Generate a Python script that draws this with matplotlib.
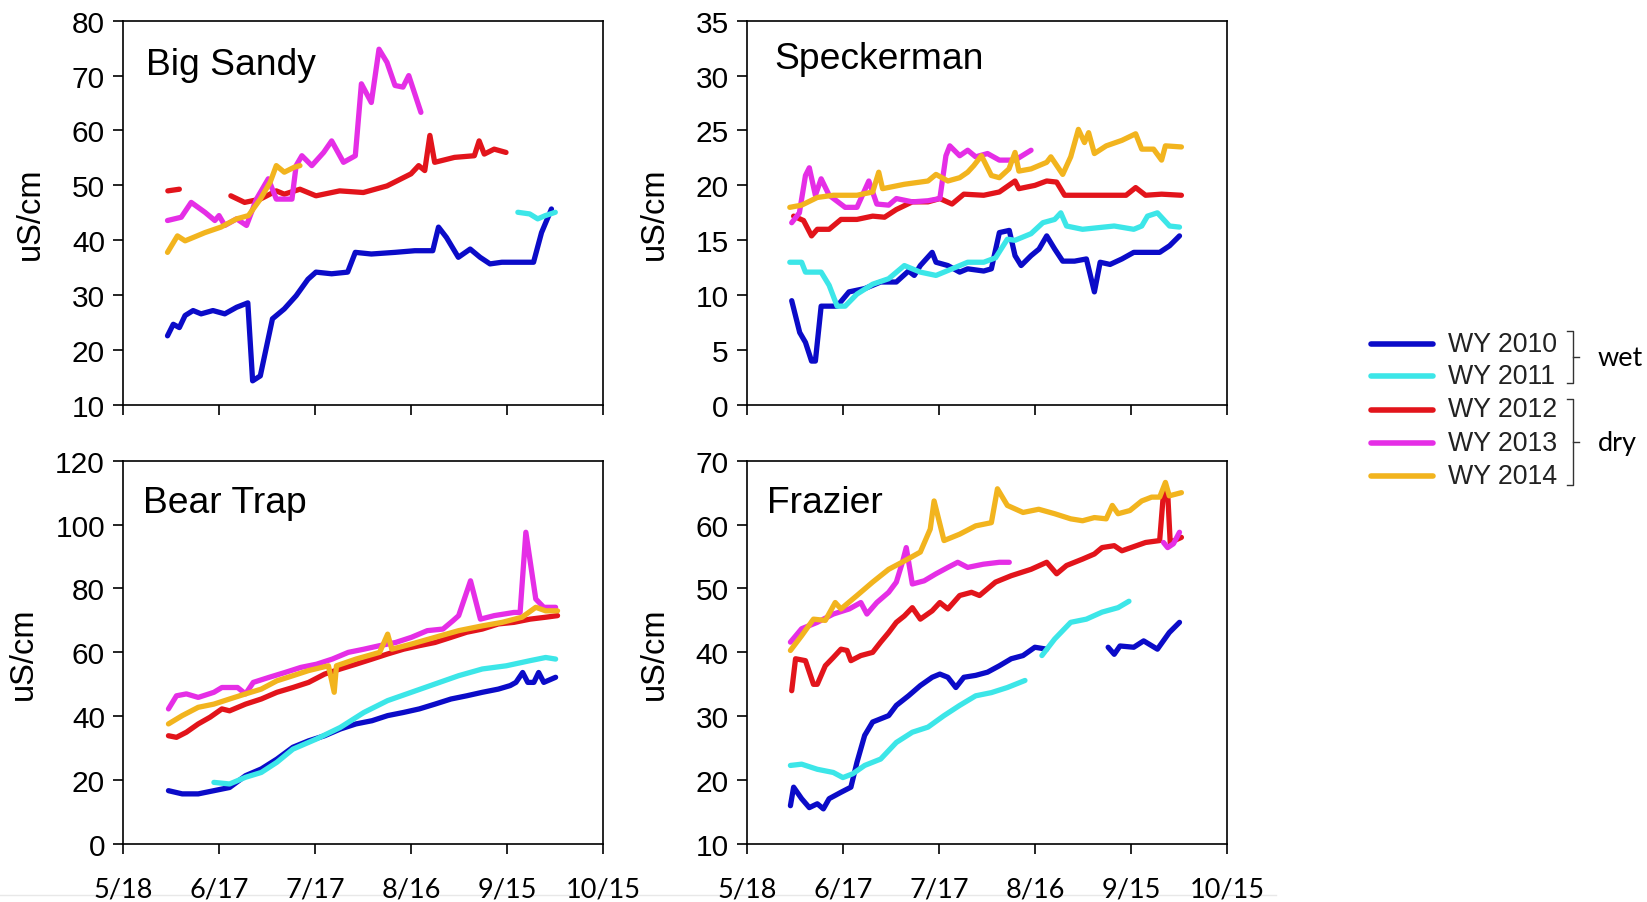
import numpy as np
import matplotlib.pyplot as plt
from matplotlib.lines import Line2D

nan = np.nan

# x values are days after 5/18
tick_days = [0, 30, 60, 90, 120, 150]
tick_labels = ['5/18', '6/17', '7/17', '8/16', '9/15', '10/15']
years = ['WY 2010', 'WY 2011', 'WY 2012', 'WY 2013', 'WY 2014']
colors = ['#0b0bc8', '#3ce6e8', '#e2141b', '#e52ee6', '#f2b41e']

# ---- Big Sandy ----
bs_2010_day = [13.9, 15.7, 17.6, 19.4, 21.9, 24.4, 28.1, 31.8, 35.5, 39, 40.5, 42.9, 46.7, 50.4, 54.1,
               57.8, 60.3, 65.2, 70.2, 72.6, 77.6, 85, 91.2, 96.8, 98.6, 101.1, 104.8, 108.5, 111.6,
               114.7, 118.4, 122.2, 128.3, 130.8, 133.9]
bs_2010_val = [22.6, 24.7, 24.1, 26.3, 27.2, 26.6, 27.2, 26.6, 27.8, 28.6, 14.4, 15.3, 25.7, 27.5, 29.9,
               32.9, 34.2, 33.9, 34.2, 37.8, 37.5, 37.8, 38.1, 38.1, 42.4, 40.5, 36.9, 38.4, 36.9,
               35.7, 36, 36, 36, 41.4, 45.7]
bs_2011_day = [123.4, 127.1, 129.6, 132, 135.1]
bs_2011_val = [45.1, 44.8, 43.9, 44.5, 45.1]
bs_2012_day = [14, 17.6, 25, 33.7, 38, 42.9, 47.9, 50.4, 55.3, 60.3, 67.7, 75.1, 82.5, 90, 92.4, 94.3,
               95.9, 97.4, 103.6, 109.8, 111.3, 112.9, 116, 119.7]
bs_2012_val = [49.0, 49.3, nan, 48.1, 46.9, 47.5, 49.0, 48.4, 49.3, 48.1, 49.0, 48.7, 49.9, 52.1, 53.6, 52.7,
               59.1, 54.2, 55.1, 55.4, 58.1, 55.7, 56.6, 56.0]
bs_2013_day = [13.9, 18.2, 21.3, 25.6, 28.7, 30, 31.8, 35.5, 38.6, 41.7, 45.4, 47.9, 52.8, 54.1, 55.9,
               59, 62.7, 65.2, 68.9, 72.6, 74.5, 77.6, 80, 82.5, 85, 87.5, 89.3, 93.1]
bs_2013_val = [43.6, 44.2, 46.9, 45.1, 43.6, 44.5, 42.7, 43.9, 42.7, 47.5, 51.2, 47.5, 47.5, 53.6, 55.4,
               53.6, 56.0, 58.1, 54.2, 55.4, 68.5, 65.1, 74.8, 72.4, 68.2, 67.9, 70.0, 63.3]
bs_2014_day = [13.9, 17, 19.4, 21.9, 25.6, 30.6, 35.5, 39.2, 42.9, 46, 47.9, 50.4, 53.5, 55.3]
bs_2014_val = [37.8, 40.8, 39.9, 40.5, 41.4, 42.4, 43.9, 44.5, 47.5, 50.6, 53.6, 52.4, 53.3, 53.6]

# ---- Speckerman ----
sp_2010_day = [14, 16.5, 18.3, 20.2, 21.4, 23.2, 28.2, 31.9, 36.8, 41.8, 46.7, 50.5, 52.3, 54.2, 57.9,
               59.1, 62.8, 66.5, 69, 74, 76.4, 78.9, 82, 83.8, 85.7, 88.8, 91.3, 93.7, 96.2, 98.7,
               102.4, 106.1, 108.6, 110.4, 113.5, 117.2, 120.9, 125.9, 129, 132.1, 135.2]
sp_2010_val = [9.5, 6.6, 5.7, 4.0, 4.0, 9.0, 9.0, 10.3, 10.6, 11.2, 11.2, 12.2, 11.8, 12.7, 13.9,
               13.0, 12.7, 12.1, 12.4, 12.2, 12.4, 15.7, 15.9, 13.6, 12.7, 13.6, 14.2, 15.4, 14.2, 13.1,
               13.1, 13.3, 10.3, 13.0, 12.8, 13.3, 13.9, 13.9, 13.9, 14.5, 15.4]
sp_2011_day = [13.4, 17.1, 18.3, 23.2, 25.7, 28.2, 30.7, 34.4, 39.3, 44.3, 49.2, 54.2, 59.1, 64.1, 69,
               74, 77.7, 81.4, 83.8, 88.8, 92.5, 96.2, 98.1, 99.9, 104.9, 114.8, 120.9, 123.4, 125.2,
               128.3, 132.1, 135.2]
sp_2011_val = [13.0, 13.0, 12.1, 12.1, 10.9, 9.0, 9.0, 10.1, 11.0, 11.5, 12.7, 12.1, 11.8, 12.4, 13.0,
               13.0, 13.4, 15.1, 15.0, 15.6, 16.6, 16.9, 17.5, 16.3, 16.0, 16.3, 16.0, 16.3, 17.2,
               17.5, 16.3, 16.2]
sp_2012_day = [14.6, 17.7, 20.2, 22, 25.7, 29.4, 34.4, 39.3, 43, 46.7, 51.7, 56.6, 60.3, 64.1, 67.8, 74,
               78.9, 83.8, 85, 90, 93.7, 96.8, 99.3, 108.6, 118.5, 121.5, 124.6, 129.6, 135.8]
sp_2012_val = [17.2, 16.8, 15.4, 16.0, 16.0, 16.9, 16.9, 17.2, 17.1, 17.8, 18.5, 18.5, 18.8, 18.3, 19.2,
               19.1, 19.4, 20.4, 19.7, 20.0, 20.4, 20.3, 19.1, 19.1, 19.1, 19.8, 19.1, 19.2, 19.1]
sp_2013_day = [14, 16.4, 18.3, 19.5, 21.4, 23.2, 25.7, 30.7, 34.4, 38.1, 40.6, 44.3, 46.7, 51.7, 56.6,
               60.3, 62.2, 63.4, 66.5, 69, 71.5, 75.2, 78.9, 83.8, 88.8]
sp_2013_val = [16.6, 17.5, 20.9, 21.6, 19.1, 20.6, 19.1, 18.0, 18.0, 20.4, 18.3, 18.2, 18.8, 18.5, 18.6,
               18.8, 22.7, 23.6, 22.7, 23.2, 22.6, 22.9, 22.3, 22.3, 23.2]
sp_2014_day = [13.4, 17.1, 22, 27, 34.4, 39.3, 41.2, 42.4, 49.2, 56.6, 59.1, 62.8, 66.5, 69, 70.9, 73.3,
               76.4, 78.9, 81.9, 83.8, 85, 88.8, 93.7, 95, 98.7, 101.2, 103.6, 105.5, 106.8, 108.6,
               112.3, 117.2, 121.5, 123.4, 127.1, 129.6, 130.8, 135.8]
sp_2014_val = [18.0, 18.2, 18.9, 19.1, 19.1, 19.4, 21.2, 19.7, 20.1, 20.4, 21.0, 20.4, 20.7, 21.2, 21.8, 22.7,
               20.9, 20.7, 21.5, 23.0, 21.3, 21.5, 22.1, 22.6, 21.0, 22.6, 25.1, 23.9, 24.8, 22.9,
               23.6, 24.1, 24.7, 23.3, 23.3, 22.3, 23.6, 23.5]

# ---- Bear Trap ----
bt_2010_day = [14.2, 18.5, 23.5, 28.4, 33.3, 38.3, 43.2, 48.1, 53.1, 58, 63, 67.9, 72.8, 77.8, 82.7,
               87.7, 92.6, 97.5, 102.5, 107.4, 112.3, 117.3, 121, 122.8, 124.9, 126.5, 128.4, 129.9,
               131.5, 135.2]
bt_2010_val = [16.7, 15.7, 15.7, 16.7, 17.7, 21.4, 23.5, 26.6, 30.3, 32.3, 33.9, 36.0, 37.6, 38.6, 40.2,
               41.2, 42.3, 43.8, 45.4, 46.4, 47.5, 48.5, 49.6, 50.6, 53.7, 50.6, 50.6, 53.7,
               50.6, 52.2]
bt_2011_day = [28.4, 33.3, 38.3, 43.2, 48.1, 53.1, 60.5, 67.9, 75.3, 82.7, 90.1, 97.5, 104.9, 112.3,
               119.8, 127.2, 132.1, 135.2]
bt_2011_val = [19.3, 18.8, 20.9, 22.4, 25.6, 29.7, 32.9, 36.5, 41.2, 44.9, 47.5, 50.1, 52.7, 54.8,
               55.8, 57.4, 58.4, 57.9]
bt_2012_day = [14.2, 16.7, 19.8, 23.5, 27.2, 30.9, 33.3, 38.3, 43.2, 48.1, 53.1, 58, 63, 67.9, 72.8,
               77.8, 82.7, 87.7, 92.6, 97.5, 102.5, 107.4, 112.3, 117.3, 122.2, 127.2, 132.1, 135.8]
bt_2012_val = [33.9, 33.4, 35.0, 37.6, 39.7, 42.3, 41.7, 43.8, 45.4, 47.5, 49.0, 50.6, 53.2, 54.8, 56.3,
               57.9, 59.5, 61.0, 62.1, 63.1, 64.7, 66.3, 67.3, 68.9, 69.4, 70.4, 71.0, 71.5]
bt_2013_day = [14.2, 16.7, 19.8, 23.5, 28.4, 30.9, 35.8, 38.3, 40.7, 45.7, 50.6, 55.6, 60.5, 65.4, 70.4,
               75.3, 80.2, 85.2, 90.1, 95.1, 100, 103.1, 104.9, 108.6, 111.7, 116, 122.2, 124.1, 125.9,
               129, 131.5, 135.2]
bt_2013_val = [42.3, 46.4, 47.0, 45.9, 47.5, 49.0, 49.0, 47.0, 50.6, 52.2, 53.7, 55.3, 56.3, 57.9, 60.0,
               61.0, 62.1, 63.1, 64.7, 66.8, 67.3, 69.9, 71.5, 82.4, 70.4, 71.5, 72.5, 72.5, 97.6,
               76.7, 74.1, 74.1]
bt_2014_day = [14.2, 18.5, 23.5, 28.4, 33.3, 38.3, 43.2, 48.1, 53.1, 58, 64.2, 66.0, 66.7, 72.8, 80.2,
               82.7, 84, 90.1, 97.5, 104.9, 112.3, 118.5, 124.7, 129, 132.1, 135.8]
bt_2014_val = [37.6, 40.2, 42.8, 43.8, 45.4, 47.0, 48.5, 51.1, 52.7, 54.3, 55.8, 47.5, 55.8, 57.9, 60.0,
               65.7, 61.0, 62.6, 64.7, 66.8, 68.3, 69.4, 71.0, 74.1, 73.0, 73.0]

# ---- Frazier ----
fr_2010_day = [13.6, 14.6, 17.1, 19.5, 22, 23.9, 25.7, 29.4, 32.5, 34.4, 36.8, 39.3, 41.8, 44.3, 46.7,
               50.5, 54.2, 57.9, 60.3, 62.8, 65.3, 67.8, 71.5, 75.2, 78.9, 82.6, 86.3, 90, 93.7, 100,
               112.9, 114.8, 116.6, 120.9, 124, 128.3, 132, 135.2]
fr_2010_val = [16.0, 18.9, 17.1, 15.7, 16.3, 15.5, 17.1, 18.1, 18.9, 22.8, 27.0, 29.1, 29.6, 30.1, 31.7,
               33.2, 34.8, 36.1, 36.6, 36.1, 34.5, 36.1, 36.4, 36.9, 37.9, 39.0, 39.5, 40.8, 40.5, nan,
               40.8, 39.7, 41.0, 40.8, 41.8, 40.5, 43.1, 44.7]
fr_2011_day = [13.6, 17.1, 22, 27, 30, 33.1, 36.8, 41.8, 46.7, 51.7, 56.6, 61.6, 66.5, 71.5, 76.4, 81.4,
               86.9, 90, 92.2, 96.2, 101.2, 106.1, 111, 116, 119.4]
fr_2011_val = [22.3, 22.5, 21.7, 21.2, 20.4, 21.0, 22.3, 23.3, 25.9, 27.5, 28.3, 30.1, 31.7, 33.2, 33.7, 34.5,
               35.6, nan, 39.5, 42.1, 44.7, 45.2, 46.3, 47.0, 48.0]
fr_2012_day = [14, 15.2, 18.3, 20.8, 22, 24.5, 27, 29.4, 31.3, 32.5, 35.6, 39.3, 41.8, 44.3, 46.7, 49.2,
               51.7, 54.2, 57.9, 60.3, 62.8, 66.5, 70.2, 72.7, 77.7, 82.6, 88.8, 93.7, 96.8, 99.9,
               104.9, 108.6, 111, 114.8, 117.2, 124.6, 129, 130.2, 131.5, 132.3, 135.8]
fr_2012_val = [34.0, 39.0, 38.7, 35.0, 35.0, 37.9, 39.2, 40.5, 40.3, 38.7, 39.5, 40.0, 41.6, 43.1, 44.7, 45.7,
               47.0, 45.2, 46.5, 47.8, 46.8, 48.9, 49.4, 48.9, 51.0, 52.0, 53.0, 54.1, 52.3, 53.6,
               54.6, 55.4, 56.4, 56.7, 55.9, 57.2, 57.5, 65.0, 65.0, 57.2, 58.0]
fr_2013_day = [13.6, 17.1, 22, 27, 32, 35.6, 37.5, 40.6, 44.3, 46.7, 48.6, 49.8, 51.7, 55.4, 59.1, 62.8,
               65.9, 69, 73.9, 78.9, 82, 100, 130.2, 131.5, 133.3, 135.2]
fr_2013_val = [41.6, 43.7, 44.7, 46.0, 46.8, 47.8, 46.0, 47.8, 49.4, 51.0, 54.1, 56.4, 50.7, 51.2, 52.3, 53.3,
               54.1, 53.3, 53.8, 54.1, 54.1, nan, 57.2, 56.4, 57.0, 58.8]
fr_2014_day = [13.6, 17.1, 20.8, 24.5, 27.6, 29.4, 34.4, 39.3, 44.3, 49.2, 54.2, 57.3, 58.5, 61.6, 66.5,
               71.5, 76.4, 78.3, 81.4, 86.3, 91.2, 96.2, 101.2, 104.9, 108.6, 112.3, 114.2, 116, 119.7,
               123.4, 126.5, 129, 130.8, 132, 135.8]
fr_2014_val = [40.3, 42.6, 45.2, 45.0, 47.8, 46.8, 48.9, 51.0, 53.0, 54.3, 55.7, 59.3, 63.7, 57.5, 58.5,
               59.8, 60.3, 65.6, 63.0, 61.9, 62.4, 61.7, 60.9, 60.6, 61.1, 60.9, 63.0, 61.7, 62.2,
               63.7, 64.3, 64.3, 66.6, 64.5, 65.0]

fig = plt.figure(figsize=(16.47, 9.03), dpi=100)
plt.rcParams['font.family'] = ['Liberation Sans', 'DejaVu Sans']


def draw_panel(pos, title, series, ylim, ystep, title_xy, xlabels, ylab_x):
    ax = fig.add_axes(pos)
    for (days, vals), c in zip(series, colors):
        ax.plot(days, vals, color=c, lw=3.8, solid_capstyle='round', solid_joinstyle='round')
    ax.set_xlim(0, 150)
    ax.set_ylim(*ylim)
    ax.set_yticks(np.arange(ylim[0], ylim[1] + 0.1, ystep))
    ax.set_xticks(tick_days)
    if xlabels:
        ax.set_xticklabels(tick_labels, fontfamily='Lato', fontsize=19.5)
    else:
        ax.set_xticklabels([])
    ax.tick_params(axis='x', direction='out', length=7, width=1.2, pad=16.5)
    ax.tick_params(axis='y', direction='out', length=7, width=1.2, pad=6, labelsize=21.5)
    for s in ax.spines.values():
        s.set_linewidth(1.2)
    ax.text(title_xy[0], title_xy[1], title, transform=ax.transAxes, fontsize=26.8, va='baseline')
    ax.set_ylabel('uS/cm', fontsize=23.5)
    ax.yaxis.set_label_coords(ylab_x, 0.5)
    return ax


w, h_top, h_bot = 0.2914, 0.4256, 0.4245
x_left, x_right = 0.0747, 0.4535
y_top, y_bot = 0.5504, 0.0642

draw_panel([x_left, y_top, w, h_top], 'Big Sandy',
           [(bs_2010_day, bs_2010_val), (bs_2011_day, bs_2011_val), (bs_2012_day, bs_2012_val),
            (bs_2013_day, bs_2013_val), (bs_2014_day, bs_2014_val)],
           (10, 80), 10, (0.048, 0.86), False, -0.16)
draw_panel([x_right, y_top, w, h_top], 'Speckerman',
           [(sp_2010_day, sp_2010_val), (sp_2011_day, sp_2011_val), (sp_2012_day, sp_2012_val),
            (sp_2013_day, sp_2013_val), (sp_2014_day, sp_2014_val)],
           (0, 35), 5, (0.058, 0.878), False, -0.16)
draw_panel([x_left, y_bot, w, h_bot], 'Bear Trap',
           [(bt_2010_day, bt_2010_val), (bt_2011_day, bt_2011_val), (bt_2012_day, bt_2012_val),
            (bt_2013_day, bt_2013_val), (bt_2014_day, bt_2014_val)],
           (0, 120), 20, (0.042, 0.866), True, -0.175)
draw_panel([x_right, y_bot, w, h_bot], 'Frazier',
           [(fr_2010_day, fr_2010_val), (fr_2011_day, fr_2011_val), (fr_2012_day, fr_2012_val),
            (fr_2013_day, fr_2013_val), (fr_2014_day, fr_2014_val)],
           (10, 70), 10, (0.042, 0.866), True, -0.16)

# legend drawn by hand so the rows line up with the brackets
W, H = 1647.0, 903.0
row_y = [344.5, 377, 410.5, 444, 477]
for yy, c, lab in zip(row_y, colors, years):
    fig.add_artist(Line2D([1371 / W, 1433 / W], [1 - yy / H, 1 - yy / H], color=c, lw=4.0,
                          solid_capstyle='round'))
    fig.text(1448 / W, 1 - yy / H, lab, fontsize=19.3, va='center', ha='left', color='#222222')


def bracket(y0, y1, ym):
    xs = [1567 / W, 1573 / W, 1573 / W, 1567 / W]
    ys = [1 - y0 / H, 1 - y0 / H, 1 - y1 / H, 1 - y1 / H]
    fig.add_artist(Line2D(xs, ys, color='#333333', lw=1.0))
    fig.add_artist(Line2D([1573 / W, 1579 / W], [1 - ym / H, 1 - ym / H], color='#333333', lw=1.0))


bracket(332, 384, 358)
bracket(399.5, 486, 443)
fig.text(1598 / W, 1 - 359 / H, 'wet', fontsize=19.5, fontfamily='Lato', va='center', ha='left')
fig.text(1598 / W, 1 - 444 / H, 'dry', fontsize=19.5, fontfamily='Lato', va='center', ha='left')

# faint rule along the bottom of the original image, kept behind the tick labels
fig.add_artist(Line2D([0, 1276 / W], [1 - 896 / H, 1 - 896 / H], color='#e8e8e8', lw=1.0, zorder=-1))

fig.savefig('out.png', dpi=100)
